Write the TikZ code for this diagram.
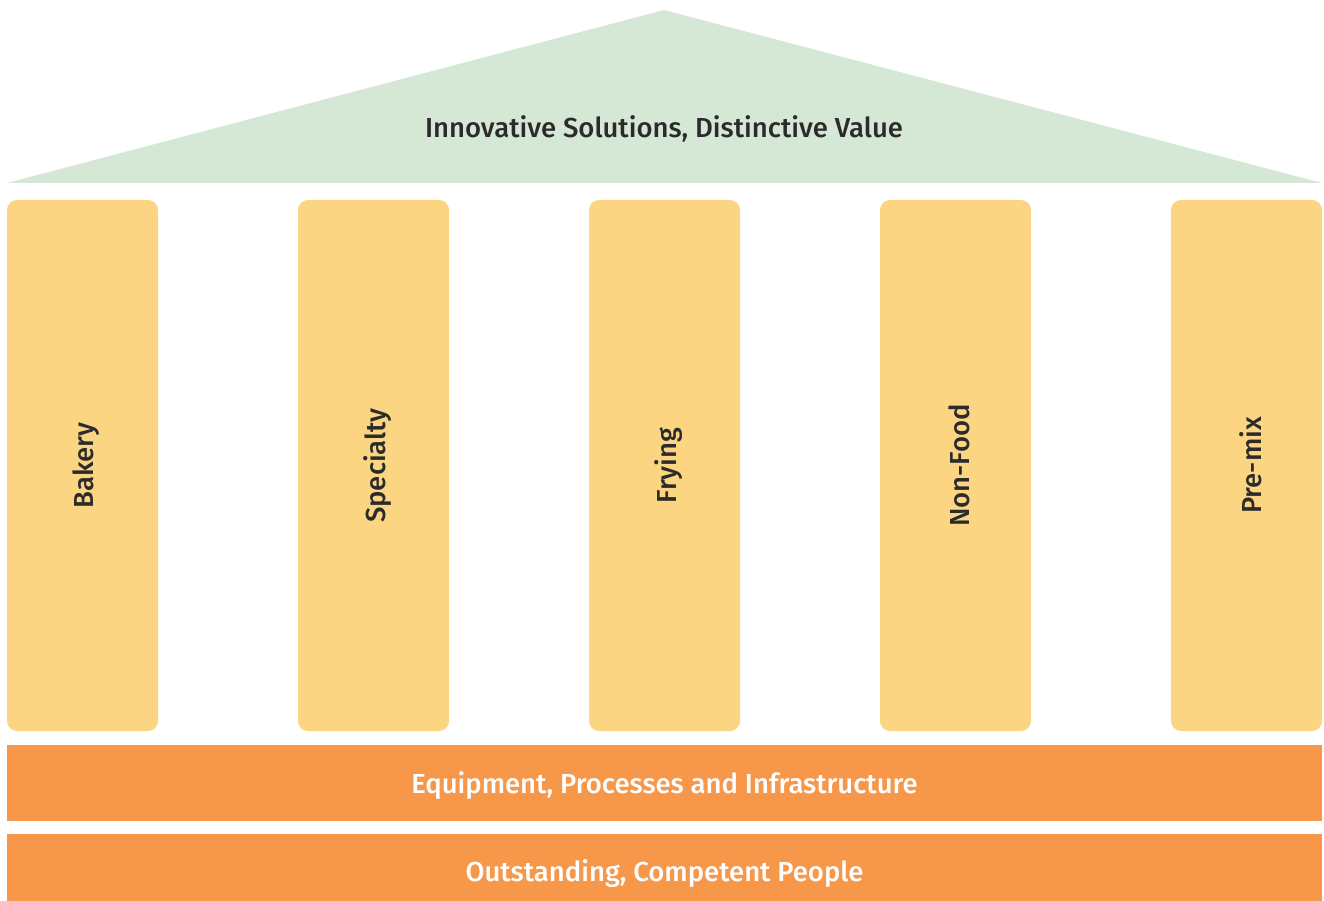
\documentclass[tikz,border=0pt]{standalone}
\usepackage{fontspec}
\setmainfont{Fira Sans}[UprightFont=* Medium, BoldFont=* SemiBold]
\definecolor{roofgreen}{HTML}{D5E8D5}
\definecolor{pillarcol}{HTML}{FBD582}
\definecolor{basecol}{HTML}{F69749}
\definecolor{textdark}{HTML}{2B2B2B}
\begin{document}
\begin{tikzpicture}[x=1pt,y=-1pt,
  pillar/.style={fill=pillarcol, draw=none, rounded corners=10pt, minimum width=151pt, minimum height=531pt, inner sep=0pt},
  pillartext/.style={text=textdark, font=\fontsize{27.5}{32}\selectfont, rotate=90},
  basebar/.style={fill=basecol, draw=none, minimum width=1315pt, inner sep=0pt},
  basetext/.style={text=white, font=\fontsize{27.5}{32}\selectfont}]
\useasboundingbox (0,0) rectangle (1324,901);
\fill[roofgreen] (7,183) -- (664,10) -- (1322,183) -- cycle;
\node[text=textdark, font=\fontsize{27.5}{32}\selectfont] (roof) at (664,129) {Innovative Solutions, Distinctive Value};
\node[pillar] (p1) at (82.5,465.5) {};
\node[pillar] (p2) at (373.5,465.5) {};
\node[pillar] (p3) at (664.5,465.5) {};
\node[pillar] (p4) at (955.5,465.5) {};
\node[pillar] (p5) at (1246.5,465.5) {};
\node[pillartext] (t1) at ([xshift=4pt]p1.center) {Bakery};
\node[pillartext] (t2) at ([xshift=4pt]p2.center) {Specialty};
\node[pillartext] (t3) at ([xshift=4pt]p3.center) {Frying};
\node[pillartext] (t4) at ([xshift=4pt]p4.center) {Non-Food};
\node[pillartext] (t5) at ([xshift=4pt]p5.center) {Pre-mix};
\node[basebar, minimum height=76pt] (b1) at (664.5,783) {};
\node[basetext] (bt1) at (664.5,786) {Equipment, Processes and Infrastructure};
\node[basebar, minimum height=78pt] (b2) at (664.5,873) {};
\node[basetext] (bt2) at (664.5,874) {Outstanding, Competent People};
\end{tikzpicture}
\end{document}
